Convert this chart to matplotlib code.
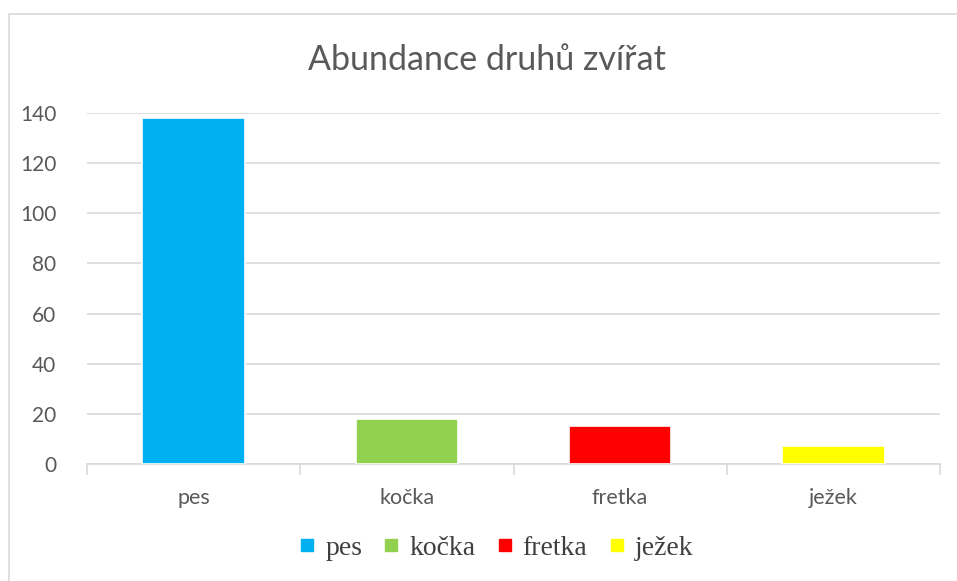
import matplotlib.pyplot as plt
from matplotlib.patches import Rectangle
from matplotlib.lines import Line2D

# data
categories = ['pes', 'kočka', 'fretka', 'ježek']
values = [138, 18, 15, 7]
colors = ['#00B0F0', '#92D050', '#FF0000', '#FFFF00']
yticks = [0, 20, 40, 60, 80, 100, 120, 140]

plt.rcParams['font.family'] = ['Lato', 'DejaVu Sans']

fig = plt.figure(figsize=(9.57, 5.81), dpi=100)
W, H = 957, 581

# chart frame
fig.patches.append(Rectangle((9 / W, -0.05), 1.1, 1.05 - 14 / H, transform=fig.transFigure,
                             fill=False, edgecolor='#D9D9D9', linewidth=1.2))

ax = fig.add_axes([87 / W, 1 - 464 / H, (940 - 87) / W, (464 - 113) / H])
x = range(len(categories))
ax.bar(x, values, width=0.48, color=colors, edgecolor='white', linewidth=1.2, zorder=3)

ax.set_xlim(-0.5, len(categories) - 0.5)
ax.set_ylim(0, 140)
ax.set_yticks(yticks)
ax.set_yticklabels([str(v) for v in yticks])
ax.yaxis.grid(True, color='#D9D9D9', linewidth=1.2, zorder=0)
ax.tick_params(axis='y', length=0, pad=22, labelsize=15, labelcolor='#595959')

ax.set_xticks(list(x))
ax.set_xticklabels(categories)
ax.tick_params(axis='x', length=0, pad=17, labelsize=15.5, labelcolor='#595959')
# category boundary ticks
ax.set_xticks([i - 0.5 for i in range(len(categories) + 1)], minor=True)
ax.tick_params(axis='x', which='minor', length=8, color='#D9D9D9', width=1.2)

for side in ['top', 'right', 'left']:
    ax.spines[side].set_visible(False)
ax.spines['bottom'].set_color('#D9D9D9')
ax.spines['bottom'].set_linewidth(1.2)

fig.text(487 / W, 1 - 60 / H, 'Abundance druhů zvířat', ha='center', va='center',
         fontsize=24.5, color='#595959')

handles = [Line2D([], [], marker='s', linestyle='none', markersize=8, color=c) for c in colors]
leg = fig.legend(handles, categories, loc='center', bbox_to_anchor=(496 / W, 1 - 548 / H),
                 ncol=4, frameon=False, handlelength=0.6, handletextpad=0.35, columnspacing=0.75,
                 prop={'family': 'Liberation Serif', 'size': 20})
for t in leg.get_texts():
    t.set_color('#404040')

fig.savefig('out.png', dpi=100)
